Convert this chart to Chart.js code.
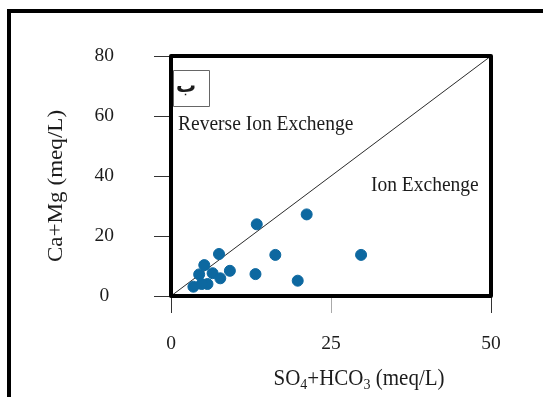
<!DOCTYPE html>
<html>
<head>
<meta charset="utf-8">
<script src="https://cdn.jsdelivr.net/npm/chart.js@4/dist/chart.umd.min.js"></script>
<style>
  html, body { margin: 0; padding: 0; background: #fff; }
  #wrap { width: 543px; height: 397px; }
</style>
</head>
<body>
<div id="wrap"><canvas id="c" width="543" height="397"></canvas></div>
<script>
// Axis ticks
const xTicks = [0, 25, 50];
const yTicks = [0, 20, 40, 60, 80];

// Samples: anions (SO4 + HCO3) against cations (Ca + Mg), meq/L
const so4hco3 = [3.5, 4.4, 5.2, 5.7, 4.8, 6.5, 7.7, 7.5, 9.2, 13.4, 13.2, 16.3, 19.8, 21.2, 29.7];
const camg    = [3.1, 7.2, 10.3, 4.0, 4.0, 7.6, 5.9, 14.0, 8.4, 23.9, 7.3, 13.7, 5.1, 27.2, 13.7];

// Dividing line between the two fields
const lineX = [0, 50];
const lineY = [0, 80];

// Field labels
const panelTag = 'ب';
const reverseLabel = 'Reverse Ion Exchenge';
const ionLabel = 'Ion Exchenge';

const SERIF = '"Liberation Serif", "Times New Roman", serif';
const TEXT = '#1c1c1c';
const STRETCH = 1.1; // glyphs are drawn slightly taller than wide

const samples = so4hco3.map((v, i) => ({ x: v, y: camg[i] }));
const divider = lineX.map((v, i) => ({ x: v, y: lineY[i] }));

function tallText(ctx, text, x, y) {
  ctx.save();
  ctx.translate(x, y);
  ctx.scale(1, STRETCH);
  ctx.fillText(text, 0, 0);
  ctx.restore();
}

const decor = {
  id: 'decor',
  beforeDraw(chart) {
    const ctx = chart.ctx;
    ctx.save();
    ctx.fillStyle = '#fff';
    ctx.fillRect(0, 0, chart.width, chart.height);
    // outer frame (top and left edges)
    ctx.strokeStyle = '#000';
    ctx.lineWidth = 4;
    ctx.beginPath();
    ctx.moveTo(9, chart.height + 2);
    ctx.lineTo(9, 11);
    ctx.lineTo(chart.width + 2, 11);
    ctx.stroke();
    ctx.restore();
  },
  afterDraw(chart) {
    const ctx = chart.ctx;
    const a = chart.chartArea;
    ctx.save();
    // plot box
    ctx.strokeStyle = '#000';
    ctx.lineWidth = 4;
    ctx.lineJoin = 'round';
    ctx.strokeRect(a.left, a.top, a.right - a.left, a.bottom - a.top);

    // panel tag box
    ctx.lineWidth = 1;
    ctx.strokeStyle = '#666';
    ctx.strokeRect(173.5, 70.5, 36, 36);
    ctx.fillStyle = TEXT;
    ctx.font = 'bold 20px "Noto Sans", "DejaVu Sans", sans-serif';
    ctx.textAlign = 'center';
    ctx.textBaseline = 'middle';
    ctx.fillText(panelTag, 186, 86);

    // field labels
    ctx.font = '19.5px ' + SERIF;
    ctx.textAlign = 'left';
    ctx.textBaseline = 'alphabetic';
    tallText(ctx, reverseLabel, 178, 130);
    tallText(ctx, ionLabel, 371, 191);

    // y axis title
    ctx.save();
    ctx.translate(62, 186);
    ctx.rotate(-Math.PI / 2);
    ctx.scale(STRETCH, 1);
    ctx.font = '21px ' + SERIF;
    ctx.textAlign = 'center';
    ctx.fillText('Ca+Mg (meq/L)', 0, 0);
    ctx.restore();

    // x axis title with subscripts
    const parts = [
      ['SO', 0], ['4', 1], ['+HCO', 0], ['3', 1], [' (meq/L)', 0]
    ];
    const big = '21px ' + SERIF, small = '14px ' + SERIF;
    let w = 0;
    parts.forEach(([t, s]) => { ctx.font = s ? small : big; w += ctx.measureText(t).width; });
    let x = 359 - w / 2;
    const base = 385;
    parts.forEach(([t, s]) => {
      ctx.font = s ? small : big;
      tallText(ctx, t, x, s ? base + 4 : base);
      x += ctx.measureText(t).width;
    });
    ctx.restore();
  }
};

new Chart(document.getElementById('c'), {
  type: 'scatter',
  data: {
    datasets: [
      {
        data: samples,
        backgroundColor: '#0d68a0',
        borderColor: '#0d68a0',
        pointRadius: 5.5,
        pointHoverRadius: 5.5
      },
      {
        type: 'line',
        data: divider,
        showLine: true,
        borderColor: '#2a2a2a',
        borderWidth: 1,
        pointRadius: 0,
        fill: false
      }
    ]
  },
  options: {
    responsive: false,
    animation: false,
    events: [],
    layout: { padding: { top: 56, right: 52, left: 0, bottom: 0 } },
    plugins: { legend: { display: false }, tooltip: { enabled: false } },
    scales: {
      x: {
        type: 'linear',
        min: 0, max: 50,
        afterFit(s) { s.height = 101; },
        afterBuildTicks(s) { s.ticks = xTicks.map(v => ({ value: v })); },
        grid: {
          drawOnChartArea: false,
          tickLength: 17,
          tickColor: (c) => (c.tick && c.tick.value === 25 ? '#aaa' : '#333'),
          lineWidth: 1
        },
        border: { display: false },
        ticks: { padding: 19, color: TEXT, font: { family: SERIF, size: 19.5 }, maxRotation: 0 }
      },
      y: {
        type: 'linear',
        min: 0, max: 80,
        afterFit(s) { s.width = 171; },
        afterBuildTicks(s) { s.ticks = yTicks.map(v => ({ value: v })); },
        grid: { drawOnChartArea: false, tickLength: 17, tickColor: '#333', lineWidth: 1 },
        border: { display: false },
        ticks: { padding: 40, crossAlign: 'center', color: TEXT, font: { family: SERIF, size: 19.5 } }
      }
    }
  },
  plugins: [decor]
});
</script>
</body>
</html>
